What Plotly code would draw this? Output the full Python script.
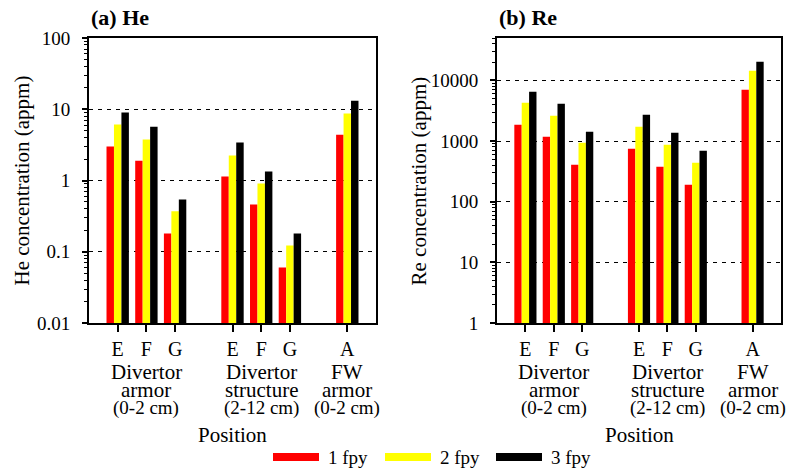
import plotly.graph_objects as go

# Positions along each panel's x axis and their labels
positions = [1, 2, 3, 5, 6, 7, 9]
position_labels = ["E", "F", "G", "E", "F", "G", "A"]

# Region groups: centre position and multi-line caption
group_centers = [2, 6, 9]
group_lines = [
    ["Divertor", "armor", "(0-2 cm)"],
    ["Divertor", "structure", "(2-12 cm)"],
    ["FW", "armor", "(0-2 cm)"],
]

series_names = ["1 fpy", "2 fpy", "3 fpy"]
series_colors = ["#ff0000", "#ffff00", "#000000"]

# He concentration (appm)
he_1fpy = [3.0, 1.9, 0.18, 1.14, 0.46, 0.060, 4.4]
he_2fpy = [6.1, 3.76, 0.37, 2.24, 0.91, 0.122, 8.7]
he_3fpy = [9.0, 5.7, 0.54, 3.42, 1.34, 0.18, 13.2]

# Re concentration (appm)
re_1fpy = [1860, 1180, 407, 748, 377, 191, 7020]
re_2fpy = [4280, 2615, 939, 1723, 870, 440, 14430]
re_3fpy = [6500, 4125, 1425, 2717, 1372, 693, 20300]

he_ticks = [0.01, 0.1, 1, 10, 100]
he_ticktext = ["0.01", "0.1", "1", "10", "100"]
re_ticks = [1, 10, 100, 1000, 10000]
re_ticktext = ["1", "10", "100", "1000", "10000"]

W, H = 787, 471
FONT = "Liberation Serif"

fig = go.Figure()

for vals, name, color in zip([he_1fpy, he_2fpy, he_3fpy], series_names, series_colors):
    fig.add_trace(go.Bar(x=positions, y=vals, name=name, marker_color=color,
                         marker_line_width=0, xaxis="x", yaxis="y",
                         offsetgroup=name, showlegend=False))
for vals, name, color in zip([re_1fpy, re_2fpy, re_3fpy], series_names, series_colors):
    fig.add_trace(go.Bar(x=positions, y=vals, name=name, marker_color=color,
                         marker_line_width=0, xaxis="x2", yaxis="y2",
                         offsetgroup=name, showlegend=False))

y_dom = [1 - 323 / H, 1 - 38 / H]
left_dom = [89 / W, 376 / W]
right_dom = [497 / W, 781 / W]

xcommon = dict(range=[0, 10], tickmode="array", tickvals=positions, ticktext=position_labels,
               ticks="outside", ticklen=7, tickwidth=1.5, tickcolor="black",
               showline=True, linewidth=2, linecolor="black", mirror=True,
               showgrid=False, zeroline=False, automargin=False,
               tickfont=dict(family=FONT, size=20, color="black"))
ycommon = dict(type="log", tickmode="array", ticks="outside", ticklen=5, tickwidth=1.5,
               tickcolor="black", showline=True, linewidth=2, linecolor="black", mirror=True,
               showgrid=True, gridcolor="black", gridwidth=1, griddash="4px,5px",
               zeroline=False, ticklabelstandoff=8, automargin=False,
               minor=dict(ticks="outside", ticklen=3, tickwidth=1, tickcolor="black",
                          dtick="D1", showgrid=False),
               tickfont=dict(family=FONT, size=19, color="black"))

fig.update_layout(
    width=W, height=H, autosize=False,
    margin=dict(l=0, r=0, t=0, b=0, pad=0),
    paper_bgcolor="white", plot_bgcolor="white",
    barmode="group", bargap=0.22, bargroupgap=0,
    showlegend=False,
    font=dict(family=FONT, color="black"),
    xaxis=dict(domain=left_dom, anchor="y", **xcommon),
    yaxis=dict(domain=y_dom, anchor="x", range=[-2, 2], tickvals=he_ticks,
               ticktext=he_ticktext, **ycommon),
    xaxis2=dict(domain=right_dom, anchor="y2", **xcommon),
    yaxis2=dict(domain=y_dom, anchor="x2", range=[0, 4.699], tickvals=re_ticks,
                ticktext=re_ticktext, **ycommon),
)

annotations = []
shapes = []

# Panel titles
for x0, txt in [(89, "(a) He"), (497, "(b) Re")]:
    annotations.append(dict(text=f"<b>{txt}</b>", x=x0 / W, y=1 - 18 / H, xref="paper", yref="paper",
                            xanchor="left", yanchor="middle", showarrow=False,
                            font=dict(family=FONT, size=22, color="black")))

# Y axis titles
for xc, txt in [(21, "He concentration (appm)"), (418, "Re concentration (appm)")]:
    annotations.append(dict(text=txt, x=xc / W, y=1 - 180.5 / H, xref="paper", yref="paper",
                            xanchor="center", yanchor="middle", textangle=-90, showarrow=False,
                            font=dict(family=FONT, size=21, color="black")))

# Group captions and the "Position" title under each panel
line_y = [372, 390, 408]
line_size = [21, 21, 19]
for xref in ["x", "x2"]:
    for center, lines in zip(group_centers, group_lines):
        for ly, fs, txt in zip(line_y, line_size, lines):
            annotations.append(dict(text=txt, x=center, y=1 - ly / H, xref=xref, yref="paper",
                                    xanchor="center", yanchor="middle", showarrow=False,
                                    font=dict(family=FONT, size=fs, color="black")))
    annotations.append(dict(text="Position", x=5, y=1 - 435 / H, xref=xref, yref="paper",
                            xanchor="center", yanchor="middle", showarrow=False,
                            font=dict(family=FONT, size=21, color="black")))

# Legend row along the bottom
legend_x = [273, 385, 496]
for lx, name, color in zip(legend_x, series_names, series_colors):
    shapes.append(dict(type="line", xref="paper", yref="paper",
                       x0=lx / W, x1=(lx + 46) / W, y0=1 - 457 / H, y1=1 - 457 / H,
                       line=dict(color=color, width=8)))
    annotations.append(dict(text=name, x=(lx + 53) / W, y=1 - 457 / H, xref="paper", yref="paper",
                            xanchor="left", yanchor="middle", showarrow=False,
                            font=dict(family=FONT, size=19, color="black")))

fig.update_layout(annotations=annotations, shapes=shapes)

fig.write_html("out.html")
